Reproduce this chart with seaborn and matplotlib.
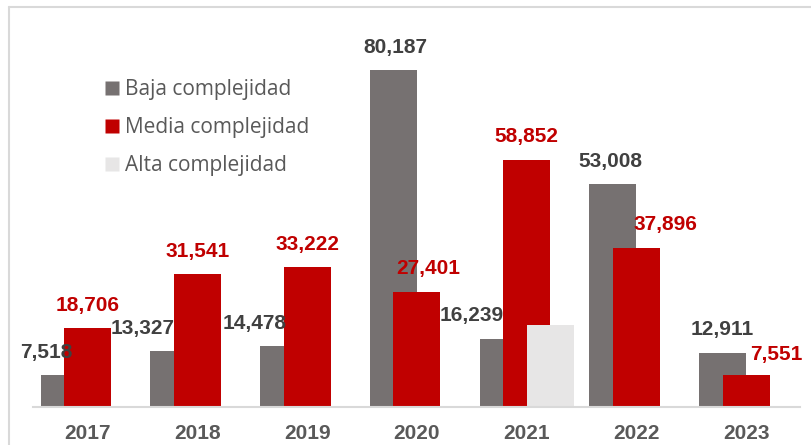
import matplotlib
matplotlib.use("Agg")

import numpy as np
import pandas as pd
import matplotlib.pyplot as plt
import seaborn as sns
from matplotlib.lines import Line2D

years = ["2017", "2018", "2019", "2020", "2021", "2022", "2023"]
series = ["Baja complejidad", "Media complejidad", "Alta complejidad"]
baja = [7518, 13327, 14478, 80187, 16239, 53008, 12911]
media = [18706, 31541, 33222, 27401, 58852, 37896, 7551]
alta = [0, 150, 180, 250, 19500, 0, 0]

colors = ["#767171", "#C00000", "#E7E6E6"]

# label offsets (pixels) relative to bar centre, as placed in the original
baja_dx = [-18, -31, -29, 2, -31, -3, 0]
media_dx = [0, 0, 0, 11, 0, 29, 30]

df = pd.DataFrame({
    "year": years * 3,
    "serie": [series[0]] * 7 + [series[1]] * 7 + [series[2]] * 7,
    "valor": baja + media + alta,
})

sns.set_style("white")
plt.rcParams["font.family"] = ["Liberation Sans", "DejaVu Sans"]

fig = plt.figure(figsize=(8.11, 4.45), dpi=100)
ax = fig.add_axes([33 / 811, 38 / 445, 767 / 811, 397 / 445])

sns.barplot(data=df, x="year", y="valor", hue="serie", hue_order=series,
            palette=colors, saturation=1, ax=ax, legend=False, errorbar=None)

# overlapping bars like the original Excel chart
width = 0.428
offsets = [-0.214, 0.0, 0.214]
for k, cont in enumerate(ax.containers):
    for i, p in enumerate(cont.patches):
        p.set_width(width)
        p.set_x(i + offsets[k] - width / 2)
        p.set_edgecolor("none")

ax.set_xlim(-0.497, 6.49)
ax.set_ylim(0, 94500)
ax.set_xlabel("")
ax.set_ylabel("")
ax.set_yticks([])
for s in ["top", "right", "left"]:
    ax.spines[s].set_visible(False)
ax.spines["bottom"].set_color("#D9D9D9")
ax.spines["bottom"].set_linewidth(1.5)
ax.tick_params(axis="x", length=0, pad=12)
for t in ax.get_xticklabels():
    t.set_fontsize(15)
    t.set_fontweight("bold")
    t.set_color("#595959")

for i in range(len(years)):
    ax.annotate(f"{baja[i]:,}", (i + offsets[0], baja[i]),
                xytext=(baja_dx[i], 23), textcoords="offset pixels",
                ha="center", va="center", fontsize=15, fontweight="bold",
                color="#404040")
    dy = 21 if media[i] < 10000 else 23
    ax.annotate(f"{media[i]:,}", (i + offsets[1], media[i]),
                xytext=(media_dx[i], dy), textcoords="offset pixels",
                ha="center", va="center", fontsize=15, fontweight="bold",
                color="#C00000")

handles = [Line2D([], [], marker="s", linestyle="none", markersize=9.5,
                  markerfacecolor=c, markeredgecolor="none") for c in colors]
leg = ax.legend(handles, series, loc="upper left",
                bbox_to_anchor=(96 / 811, 1 - 71 / 445), bbox_transform=fig.transFigure,
                frameon=False, handlelength=0.7, handletextpad=0.3, labelspacing=0.82,
                prop={"family": "Open Sans", "size": 15}, borderaxespad=0)
for t in leg.get_texts():
    t.set_color("#595959")

# outer frame of the original image
fig.add_artist(Line2D([9 / 811, 1], [1 - 7 / 445] * 2, color="#D9D9D9", lw=1.5,
                      transform=fig.transFigure))
fig.add_artist(Line2D([9 / 811] * 2, [0, 1 - 7 / 445], color="#D9D9D9", lw=1.5,
                      transform=fig.transFigure))

fig.savefig("out.png", dpi=100)
